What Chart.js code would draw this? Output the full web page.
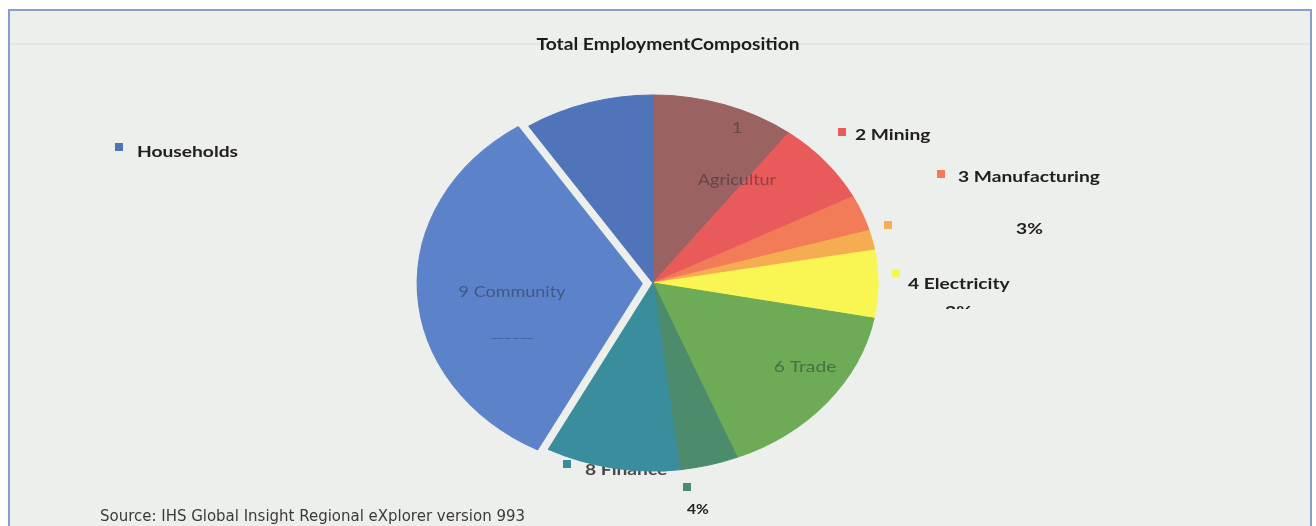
<!DOCTYPE html>
<html lang="en">
<head>
<meta charset="UTF-8">
<script src="https://cdn.jsdelivr.net/npm/chart.js"></script>
<title>Total Employment Composition</title>
<style>
  body { margin: 0; background: #fff; }
  #frame { position: absolute; left: 8px; top: 9px; width: 1300px; height: 530px;
           border: 2px solid #8A9ECD; background: #EDEFEC; }
  #pie { position: absolute; left: 0; top: 0; }
</style>
</head>
<body>
<div id="frame"></div>
<canvas id="pie" width="1316" height="526"></canvas>
<script>
// employment share by sector, percent of total
const sectors = ['1 Agriculture', '2 Mining', '3 Manufacturing', '4 Electricity', '5 Construction',
                 '6 Trade', '7 Transport', '8 Finance', '9 Community', 'Households'];
const shares = [10.3, 7.1, 3.1, 1.7, 5.8, 15.9, 4.2, 9.6, 33.0, 9.3];
const sliceColors = ['#9B6262', '#E95B5B', '#F27B58', '#F6AD52', '#F9F552',
                     '#6DAB57', '#4C8C6C', '#3A8D9C', '#5C83C9', '#5074BA'];
const pulledOut = 8;      // community slice is pulled away from the centre
const pullDistance = 9;

const stretchX = 1.197;   // pie is drawn as an ellipse
const textStretch = 1.2;  // the text is widened the same way

// labels written on top of the slices (offsets from pie centre)
const innerLabels = [
  { text: '1', dx: 84, dy: -155 },
  { text: 'Agricultur', dx: 84, dy: -103 },
  { text: '9 Community', dx: -141, dy: 9 },
  { text: '6 Trade', dx: 152, dy: 84 }
];
// labels with colour keys outside the pie
const keyLabels = [
  { key: 1, kx: 185, ky: -155, text: '2 Mining', tx: 202, ty: -148 },
  { key: 2, kx: 284, ky: -113, text: '3 Manufacturing', tx: 305, ty: -106 },
  { key: 3, kx: 231, ky: -62, text: '3%', tx: 363, ty: -54 },
  { key: 4, kx: 239, ky: -14, text: '4 Electricity', tx: 255, ty: 1 },
  { key: 9, kx: -538, ky: -140, text: 'Households', tx: -516, ty: -131 },
  { key: 6, kx: 30, ky: 200, text: '4%', tx: 34, ty: 227, small: true }
];
const sourceNote = 'Source: IHS Global Insight Regional eXplorer version 993';

function pieCentre(chart) {
  const a = chart.getDatasetMeta(0).data[0];
  return { x: a.x, y: a.y };
}

function key(ctx, x, y, i) {
  ctx.fillStyle = sliceColors[i];
  ctx.fillRect(x, y, 8, 8);
}

function wideText(ctx, text, x, y, sx = textStretch) {
  ctx.save();
  ctx.translate(x, y);
  ctx.scale(sx, 1);
  ctx.fillText(text, 0, 0);
  ctx.restore();
}

const decorations = {
  id: 'decorations',
  beforeDatasetsDraw(chart) {
    const ctx = chart.ctx;
    const c = pieCentre(chart);

    // draw the pulled-out slice shifted along its middle angle
    const arc = chart.getDatasetMeta(0).data[pulledOut];
    if (arc && !arc.pulled) {
      const drawArc = arc.draw.bind(arc);
      arc.draw = function (g, area) {
        const mid = (this.startAngle + this.endAngle) / 2;
        g.save();
        g.translate(Math.cos(mid) * pullDistance, Math.sin(mid) * pullDistance);
        drawArc(g, area);
        g.restore();
      };
      arc.pulled = true;
    }

    ctx.save();
    // faint rule behind the title
    ctx.fillStyle = 'rgba(0,0,0,0.035)';
    ctx.fillRect(10, 43, 1300, 2);
    ctx.fillStyle = '#1c1c1c';
    ctx.font = 'bold 17px Lato';
    ctx.textAlign = 'center';
    ctx.textBaseline = 'middle';
    wideText(ctx, 'Total EmploymentComposition', 668, 45, 1.13);

    // the finance label sits partly under the pie
    key(ctx, c.x - 90, c.y + 177, 7);
    ctx.fillStyle = '#4a4a4a';
    ctx.font = 'bold 16px Lato';
    ctx.textAlign = 'left';
    wideText(ctx, '8 Finance', c.x - 68, c.y + 187);
    ctx.restore();

    // stretch the pie horizontally
    ctx.save();
    ctx.translate(c.x, c.y);
    ctx.scale(stretchX, 1);
    ctx.translate(-c.x, -c.y);
  },
  afterDatasetsDraw(chart) {
    const ctx = chart.ctx;
    ctx.restore();
    const c = pieCentre(chart);
    ctx.save();
    ctx.textBaseline = 'middle';

    ctx.textAlign = 'center';
    ctx.fillStyle = 'rgba(35,35,45,0.45)';
    innerLabels.forEach(l => {
      ctx.font = l.text === '6 Trade' ? '16px Lato' : '15px Lato';
      wideText(ctx, l.text, c.x + l.dx, c.y + l.dy);
    });
    ctx.font = '7px Lato';
    ctx.fillStyle = 'rgba(30,40,90,0.7)';
    wideText(ctx, '——— ———', c.x - 141, c.y + 56);

    ctx.textAlign = 'left';
    keyLabels.forEach(l => {
      key(ctx, c.x + l.kx, c.y + l.ky, l.key);
      ctx.fillStyle = '#202020';
      ctx.font = l.small ? 'bold 13px Lato' : 'bold 16px Lato';
      wideText(ctx, l.text, c.x + l.tx, c.y + l.ty);
    });

    // electricity percentage, cut off below the name
    ctx.save();
    ctx.beginPath();
    ctx.rect(c.x + 280, c.y + 18, 60, 8);
    ctx.clip();
    ctx.font = 'bold 16px Lato';
    wideText(ctx, '2%', c.x + 292, c.y + 29);
    ctx.restore();

    // source line, squeezed to its printed width
    ctx.font = '16px "DejaVu Sans"';
    ctx.fillStyle = '#3a3a3a';
    ctx.textBaseline = 'alphabetic';
    const w = ctx.measureText(sourceNote).width;
    wideText(ctx, sourceNote, 100, 521, 425 / w);
    ctx.restore();
  }
};

new Chart(document.getElementById('pie'), {
  type: 'pie',
  data: {
    labels: sectors,
    datasets: [{
      data: shares,
      backgroundColor: sliceColors,
      borderColor: sliceColors,
      borderWidth: 1,
      radius: 188
    }]
  },
  options: {
    responsive: false,
    animation: false,
    events: [],
    layout: { padding: { left: 453, right: 463, top: 83, bottom: 43 } },
    plugins: {
      legend: { display: false },
      title: { display: false },
      tooltip: { enabled: false }
    }
  },
  plugins: [decorations]
});
</script>
</body>
</html>
